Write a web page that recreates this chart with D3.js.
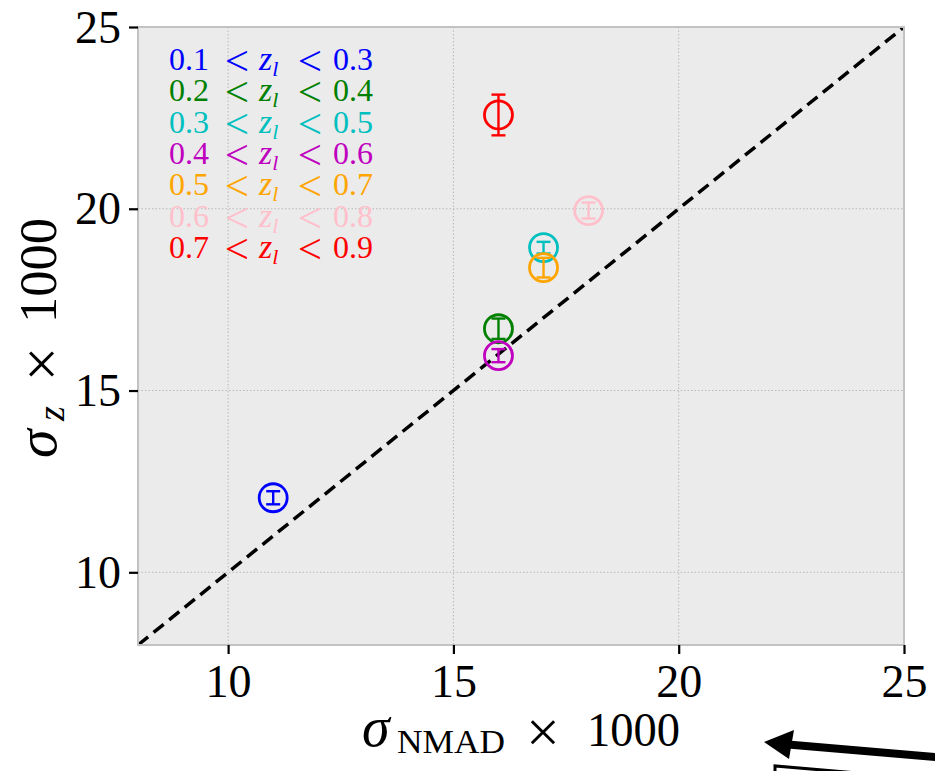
<!DOCTYPE html>
<html>
<head>
<meta charset="utf-8">
<script src="https://cdn.jsdelivr.net/npm/d3@7"></script>
<style>
  html, body { margin: 0; padding: 0; background: #ffffff; }
  svg { display: block; font-family: "Liberation Serif", "DejaVu Serif", serif; }
</style>
</head>
<body>
<svg id="chart" width="935" height="771"></svg>
<script>
// Redshift bins (lens redshift ranges)
const binLow   = [0.1, 0.2, 0.3, 0.4, 0.5, 0.6, 0.7];
const binHigh  = [0.3, 0.4, 0.5, 0.6, 0.7, 0.8, 0.9];
const binColor = ["#0000ff", "#008000", "#00bfbf", "#bf00bf", "#ffa500", "#ffc0cb", "#ff0000"];

// sigma_NMAD x 1000 and sigma_z x 1000 with errors
const sigmaNMAD = [11, 16, 17, 16, 17, 18, 16];
const sigmaZ    = [12.05, 16.70, 18.93, 15.96, 18.38, 19.95, 22.58];
const sigmaZErr = [0.18, 0.28, 0.16, 0.18, 0.27, 0.22, 0.56];

// Axis settings
const xDomain = [8, 25];
const yDomain = [8, 25];
const xTicks = [10, 15, 20, 25];
const yTicks = [10, 15, 20, 25];

const svg = d3.select("#chart");
const plot = { left: 138, right: 904, top: 27, bottom: 645 };

const x = d3.scaleLinear().domain(xDomain).range([plot.left, plot.right]);
const y = d3.scaleLinear().domain(yDomain).range([plot.bottom, plot.top]);

// Axes background
svg.append("rect")
  .attr("x", plot.left).attr("y", plot.top)
  .attr("width", plot.right - plot.left).attr("height", plot.bottom - plot.top)
  .attr("fill", "#ebebeb");

// Dotted grid
const grid = svg.append("g").attr("stroke", "#b8b8b8").attr("stroke-width", 1)
  .attr("stroke-dasharray", "1.5,2");
xTicks.filter(t => t < xDomain[1]).forEach(t => {
  grid.append("line").attr("x1", x(t)).attr("x2", x(t))
    .attr("y1", plot.top).attr("y2", plot.bottom);
});
yTicks.filter(t => t < yDomain[1]).forEach(t => {
  grid.append("line").attr("y1", y(t)).attr("y2", y(t))
    .attr("x1", plot.left).attr("x2", plot.right);
});

// One-to-one line
svg.append("line")
  .attr("x1", x(8)).attr("y1", y(8))
  .attr("x2", x(25)).attr("y2", y(25))
  .attr("stroke", "#000").attr("stroke-width", 3.5)
  .attr("stroke-dasharray", "13,7");

// Frame
svg.append("rect")
  .attr("x", plot.left).attr("y", plot.top)
  .attr("width", plot.right - plot.left).attr("height", plot.bottom - plot.top)
  .attr("fill", "none").attr("stroke", "#c2c2c2").attr("stroke-width", 2);

// Axes with ticks
const xAxis = d3.axisBottom(x).tickValues(xTicks).tickSize(9).tickPadding(10).tickFormat(d3.format("d"));
const yAxis = d3.axisLeft(y).tickValues(yTicks).tickSize(9).tickPadding(8).tickFormat(d3.format("d"));

const gx = svg.append("g").attr("transform", `translate(0,${plot.bottom})`).call(xAxis);
const gy = svg.append("g").attr("transform", `translate(${plot.left},0)`).call(yAxis);
[gx, gy].forEach(g => {
  g.attr("font-family", null);
  g.select(".domain").remove();
  g.selectAll(".tick line").attr("stroke", "#000").attr("stroke-width", 2.2);
  g.selectAll(".tick text").attr("fill", "#000").attr("font-size", 46);
});
gx.selectAll(".tick text").attr("dy", "0.72em");
gy.selectAll(".tick text").attr("dy", "0.33em");

// Error bars and circles
const pts = svg.append("g");
sigmaNMAD.forEach((xv, i) => {
  const g = pts.append("g").attr("stroke", binColor[i]).attr("fill", "none");
  const cx = x(xv), y0 = y(sigmaZ[i] - sigmaZErr[i]), y1 = y(sigmaZ[i] + sigmaZErr[i]);
  g.append("line").attr("x1", cx).attr("x2", cx).attr("y1", y0).attr("y2", y1).attr("stroke-width", 2.4);
  g.append("line").attr("x1", cx - 7).attr("x2", cx + 7).attr("y1", y0).attr("y2", y0).attr("stroke-width", 2.4);
  g.append("line").attr("x1", cx - 7).attr("x2", cx + 7).attr("y1", y1).attr("y2", y1).attr("stroke-width", 2.4);
  g.append("circle").attr("cx", cx).attr("cy", y(sigmaZ[i])).attr("r", 14).attr("stroke-width", 2.8);
});

// Legend text, one row per redshift bin
const leg = svg.append("g").attr("font-size", 32);
binLow.forEach((lo, i) => {
  const row = leg.append("g")
    .attr("transform", `translate(0,${70 + i * 31.3})`)
    .attr("fill", binColor[i]);
  row.append("text").attr("x", 169).text(lo.toFixed(1));
  row.append("text").attr("x", 237).attr("y", 5)
    .attr("text-anchor", "middle").attr("font-size", 43).text("<");
  const z = row.append("text").attr("x", 259).attr("font-style", "italic");
  z.append("tspan").attr("font-size", 34).text("z");
  z.append("tspan").attr("font-size", 22).attr("dy", 6).text("l");
  row.append("text").attr("x", 310).attr("y", 5)
    .attr("text-anchor", "middle").attr("font-size", 43).text("<");
  row.append("text").attr("x", 333).text(binHigh[i].toFixed(1));
});

// X axis title
const xTitle = svg.append("g").attr("fill", "#000");
xTitle.append("text").attr("x", 362).attr("y", 746)
  .attr("font-size", 56).attr("font-style", "italic").text("σ");
xTitle.append("text").attr("x", 397).attr("y", 753)
  .attr("font-size", 34).attr("textLength", 108).attr("lengthAdjust", "spacingAndGlyphs").text("NMAD");
xTitle.append("text").attr("x", 543).attr("y", 752)
  .attr("font-size", 60).attr("text-anchor", "middle").text("×");
xTitle.append("text").attr("x", 587).attr("y", 746)
  .attr("font-size", 48).attr("textLength", 93).attr("lengthAdjust", "spacingAndGlyphs").text("1000");

// Y axis title (rotated)
const yTitle = svg.append("g").attr("fill", "#000")
  .attr("transform", "translate(56,0) rotate(-90)");
yTitle.append("text").attr("x", -458).attr("y", 0)
  .attr("font-size", 58).attr("font-style", "italic").text("σ");
yTitle.append("text").attr("x", -421).attr("y", 8)
  .attr("font-size", 38).attr("font-style", "italic").text("z");
yTitle.append("text").attr("x", -364).attr("y", 6)
  .attr("font-size", 62).attr("text-anchor", "middle").text("×");
yTitle.append("text").attr("x", -323).attr("y", 0)
  .attr("font-size", 52).attr("textLength", 105).attr("lengthAdjust", "spacingAndGlyphs").text("1000");

// Annotation arrow and box edge at the lower right
svg.append("line")
  .attr("x1", 940).attr("y1", 757.5).attr("x2", 788).attr("y2", 744.5)
  .attr("stroke", "#000").attr("stroke-width", 8);
svg.append("path")
  .attr("d", "M764,742 L794,730 L789,759 Z")
  .attr("fill", "#000");
svg.append("path")
  .attr("d", "M775,775 L775,766 L940,780")
  .attr("fill", "none").attr("stroke", "#000").attr("stroke-width", 3);
</script>
</body>
</html>
